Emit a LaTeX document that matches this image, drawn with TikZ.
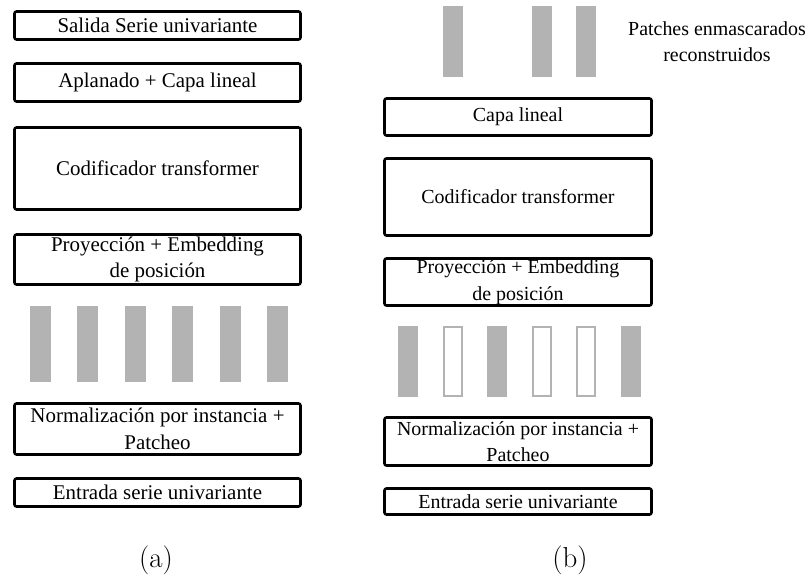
\documentclass[tikz,border=0pt]{standalone}
\usepackage{fontspec}
\newfontfamily\boxfont{Liberation Serif}
\definecolor{patchgray}{RGB}{179,179,179}

\begin{document}
\begin{tikzpicture}[
  x=1bp,y=-1bp,
  layer/.style={draw,line width=2.6bp,rounded corners=2bp,inner sep=0pt,align=center,minimum width=286bp},
  lefttxt/.style={font=\boxfont\fontsize{21}{27}\selectfont},
  righttxt/.style={font=\boxfont\fontsize{20}{26.5}\selectfont},
  patch/.style={fill=patchgray,inner sep=0pt,minimum width=21bp},
  masked/.style={draw=patchgray,line width=2bp,fill=white,inner sep=0pt,minimum width=18bp,minimum height=69bp},
  tag/.style={font=\fontsize{29}{34}\selectfont,inner sep=0pt}
]
\useasboundingbox (0,0) rectangle (809,580);

% (a) forecasting stack
\node[layer,lefttxt,minimum height=28bp] (outa) at (157.5,25.5) {Salida Serie univariante};
\node[layer,lefttxt,minimum height=38bp] (flat) at (157.5,82.5) {Aplanado + Capa lineal};
\node[layer,lefttxt,minimum height=82bp] (enca) at (157.5,168.5) {Codificador transformer};
\node[layer,lefttxt,minimum height=50bp] (proja) at (157.5,259.5) {Proyección + Embedding\\de posición};
\foreach \i/\x in {1/40,2/87.5,3/135,4/182.5,5/230,6/277.5}
  \node[patch,minimum height=76bp] (pa\i) at (\x,344) {};
\node[layer,lefttxt,minimum height=51bp] (norma) at (157.5,429) {Normalización por instancia +\\Patcheo};
\node[layer,lefttxt,minimum height=28bp] (ina) at (157.5,492.5) {Entrada serie univariante};
\node[tag] (capa) at (156,560) {(a)};

% (b) masked pretraining stack
\foreach \i/\x in {2/452.6,4/541.8,5/586.4}
  \node[patch,minimum width=20bp,minimum height=71bp] (rb\i) at (\x,41.5) {};
\node[righttxt,align=center,inner sep=0pt] (recl) at (717,41.5) {Patches enmascarados\\reconstruidos};
\node[layer,righttxt,minimum width=267bp,minimum height=37bp] (lin) at (518,117) {Capa lineal};
\node[layer,righttxt,minimum width=267bp,minimum height=77bp] (encb) at (518,197) {Codificador transformer};
\node[layer,righttxt,minimum width=267bp,minimum height=47bp] (projb) at (518,282) {Proyección + Embedding\\de posición};

% kept and masked patches
\foreach \i/\x in {1/408,3/497.2,6/631}
  \node[patch,minimum width=20bp,minimum height=71bp] (pb\i) at (\x,361.5) {};
\foreach \i/\x in {2/452.6,4/541.8,5/586.4}
  \node[masked] (pb\i) at (\x,361.5) {};

\node[layer,righttxt,minimum width=267bp,minimum height=48bp] (normb) at (518,441.5) {Normalización por instancia +\\Patcheo};
\node[layer,righttxt,minimum width=267bp,minimum height=26bp] (inb) at (518,501.5) {Entrada serie univariante};
\node[tag] (capb) at (570,560) {(b)};
\end{tikzpicture}
\end{document}
